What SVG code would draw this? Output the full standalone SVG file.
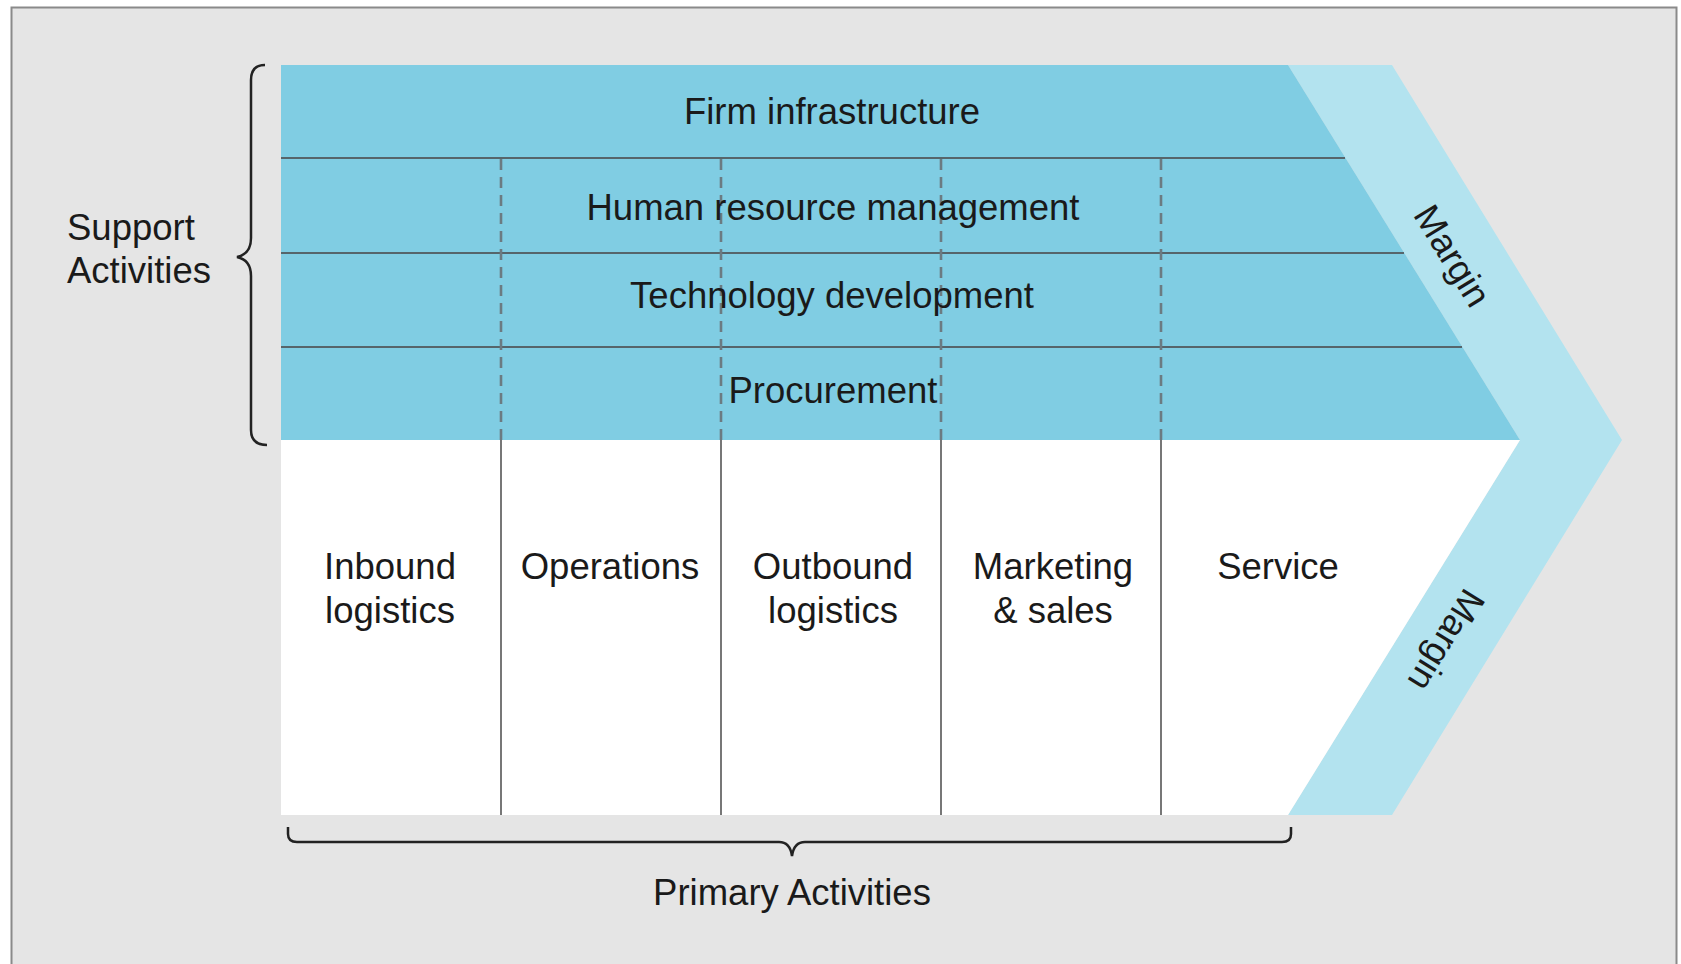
<svg xmlns="http://www.w3.org/2000/svg" width="1681" height="964" viewBox="0 0 1681 964">
<style>
text{font-family:"Liberation Sans",Arial,sans-serif;font-size:36.5px;fill:#1a1a1a}
.c{text-anchor:middle}
.hl{stroke:#56656b;stroke-width:2.2;fill:none}
.dl{stroke:#6b7b82;stroke-width:2.6;stroke-dasharray:11 7;fill:none}
.vl{stroke:#555;stroke-width:1.6;fill:none}
.br{stroke:#222;stroke-width:2.5;fill:none}
</style>
<rect x="0" y="0" width="1681" height="964" fill="#ffffff"/>
<rect x="11.5" y="7.5" width="1665" height="1000" fill="#e5e5e5" stroke="#8a8a8a" stroke-width="2"/>
<g id="margin">
<polygon points="1288,65 1392,65 1622,440 1392,815 1288,815 1520,440" fill="#b3e3ef"/>
<text class="c" font-size="34" transform="translate(1452,256) rotate(58.4)" dy="12">Margin</text>
<text class="c" font-size="34" transform="translate(1446,640) rotate(121.6)" dy="12">Margin</text>
</g>
<g id="support">
<polygon points="281,65 1288,65 1520,440 281,440" fill="#80cde3"/>
</g>
<g id="primary">
<polygon points="281,440 1520,440 1288,815 281,815" fill="#ffffff"/>
</g>
<g id="connectors">
<line class="hl" x1="281" y1="158" x2="1345" y2="158"/>
<line class="hl" x1="281" y1="253" x2="1404" y2="253"/>
<line class="hl" x1="281" y1="347" x2="1462" y2="347"/>
<line class="dl" x1="501" y1="159" x2="501" y2="440"/>
<line class="dl" x1="721" y1="159" x2="721" y2="440"/>
<line class="dl" x1="941" y1="159" x2="941" y2="440"/>
<line class="dl" x1="1161" y1="159" x2="1161" y2="440"/>
<line class="vl" x1="501" y1="440" x2="501" y2="815"/>
<line class="vl" x1="721" y1="440" x2="721" y2="815"/>
<line class="vl" x1="941" y1="440" x2="941" y2="815"/>
<line class="vl" x1="1161" y1="440" x2="1161" y2="815"/>
<path class="br" d="M265,65 Q251,65 251,80 L251,238 Q251,254 237,257 Q251,260 251,276 L251,430 Q251,445 267,445"/>
<path class="br" d="M288,827 L288,834 Q288,842 297,842 L779,842 Q790,842 792,856 Q794,842 805,842 L1282,842 Q1291,842 1291,834 L1291,827"/>
</g>
<g id="firm-infrastructure"><text class="c" x="832" y="124">Firm infrastructure</text></g>
<g id="hrm"><text class="c" x="833" y="220">Human resource management</text></g>
<g id="technology"><text class="c" x="832" y="308">Technology development</text></g>
<g id="procurement"><text class="c" x="833" y="403">Procurement</text></g>
<g id="inbound"><text class="c" x="390" y="579">Inbound</text><text class="c" x="390" y="623">logistics</text></g>
<g id="operations"><text class="c" x="610" y="579">Operations</text></g>
<g id="outbound"><text class="c" x="833" y="579">Outbound</text><text class="c" x="833" y="623">logistics</text></g>
<g id="marketing"><text class="c" x="1053" y="579">Marketing</text><text class="c" x="1053" y="623">&amp; sales</text></g>
<g id="service"><text class="c" x="1278" y="579">Service</text></g>
<g id="support-label"><text x="67" y="240">Support</text><text x="67" y="283">Activities</text></g>
<g id="primary-label"><text class="c" x="792" y="905">Primary Activities</text></g>
</svg>
